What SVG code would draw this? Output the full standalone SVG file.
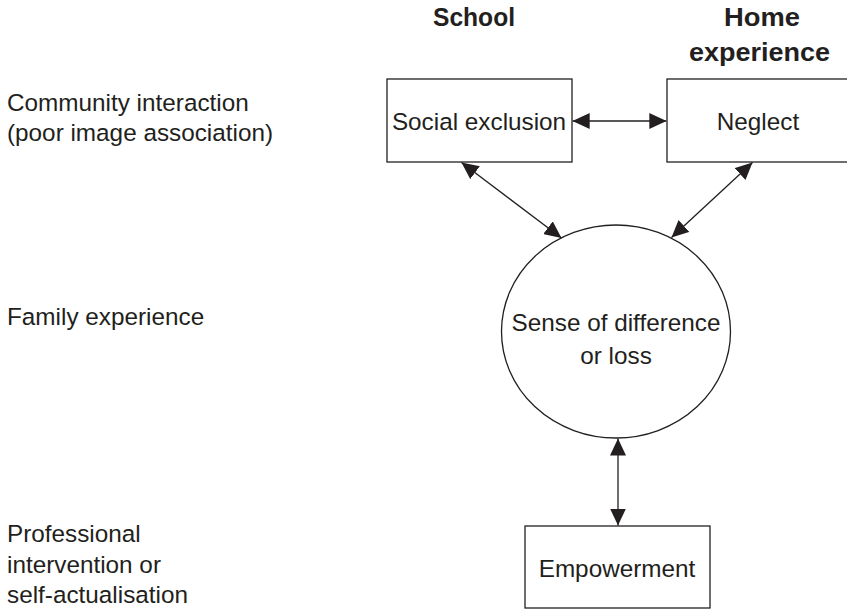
<svg xmlns="http://www.w3.org/2000/svg" width="847" height="609" viewBox="0 0 847 609">
  <style>
    .txt { font-family: "Liberation Sans", Arial, sans-serif; font-size: 24.3px; fill: #231f20; }
    .hdr { font-family: "Liberation Sans", Arial, sans-serif; font-size: 26px; font-weight: bold; fill: #231f20; }
    .mid { text-anchor: middle; }
    .shape { fill: #ffffff; stroke: #231f20; stroke-width: 1.3; }
    .link { fill: none; stroke: #231f20; stroke-width: 1.3; marker-start: url(#head); marker-end: url(#head); }
  </style>
  <defs>
    <marker id="head" viewBox="0 0 17 16" refX="17" refY="8" markerWidth="17" markerHeight="16" markerUnits="userSpaceOnUse" orient="auto-start-reverse">
      <path d="M0,0 L17,8 L0,16 z" fill="#231f20"/>
    </marker>
  </defs>
  <rect width="847" height="609" fill="#ffffff"/>

  <!-- row labels on the left -->
  <g id="row-labels">
    <text class="txt" x="7" y="111">Community interaction</text>
    <text class="txt" x="7" y="141">(poor image association)</text>
    <text class="txt" x="7" y="325">Family experience</text>
    <text class="txt" x="7" y="542">Professional</text>
    <text class="txt" x="7" y="573">intervention or</text>
    <text class="txt" x="7" y="603">self-actualisation</text>
  </g>

  <!-- column headings -->
  <g id="col-headings">
    <text class="hdr mid" x="474" y="26" textLength="82" lengthAdjust="spacingAndGlyphs">School</text>
    <text class="hdr mid" x="762" y="26" textLength="76" lengthAdjust="spacingAndGlyphs">Home</text>
    <text class="hdr mid" x="759.5" y="61" textLength="141" lengthAdjust="spacingAndGlyphs">experience</text>
  </g>

  <g id="social-exclusion">
    <rect class="shape" x="387" y="79" width="185" height="83"/>
    <text class="txt mid" x="479" y="130">Social exclusion</text>
  </g>

  <g id="neglect">
    <rect class="shape" x="667" y="79" width="200" height="83"/>
    <text class="txt mid" x="758" y="130">Neglect</text>
  </g>

  <g id="sense-of-difference">
    <ellipse class="shape" cx="616" cy="331.5" rx="114.5" ry="106.5"/>
    <text class="txt mid" x="616" y="331">Sense of difference</text>
    <text class="txt mid" x="616" y="364">or loss</text>
  </g>

  <g id="empowerment">
    <rect class="shape" x="525" y="526" width="185" height="82"/>
    <text class="txt mid" x="617" y="577">Empowerment</text>
  </g>

  <g id="connectors">
    <line class="link" x1="572.7" y1="121" x2="666.3" y2="121"/>
    <line class="link" x1="461.5" y1="162.5" x2="561.5" y2="238"/>
    <line class="link" x1="752.5" y1="162.5" x2="671.5" y2="237.5"/>
    <line class="link" x1="618" y1="438.5" x2="618" y2="525.5"/>
  </g>
</svg>
